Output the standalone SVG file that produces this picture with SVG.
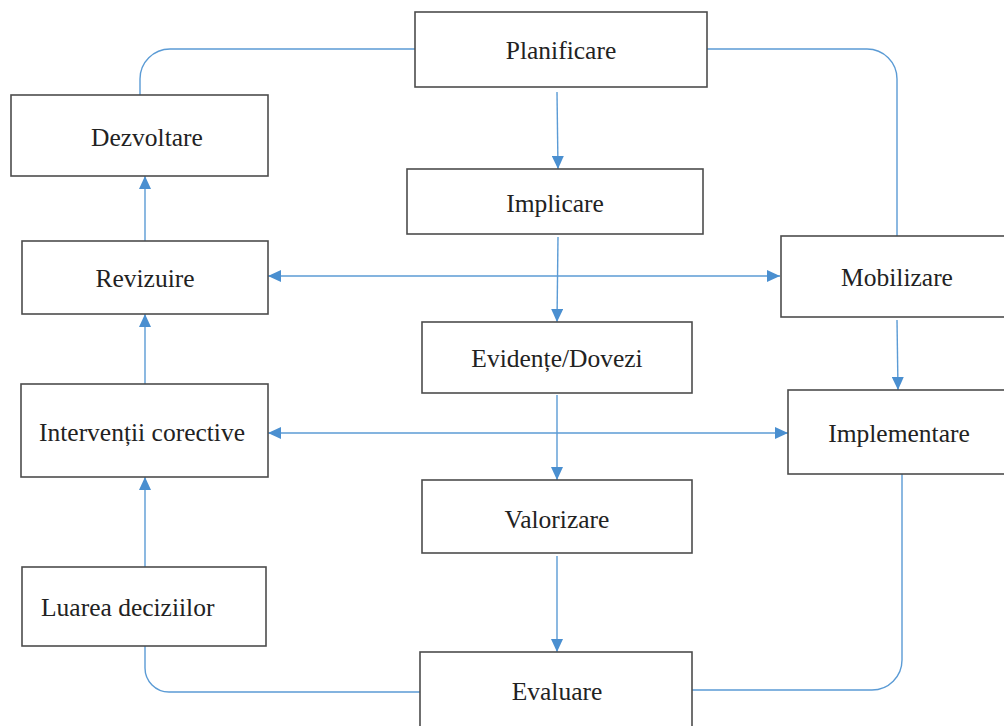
<svg xmlns="http://www.w3.org/2000/svg" width="1004" height="726" viewBox="0 0 1004 726">
<defs>
<marker id="ah" viewBox="0 0 13 12" refX="13" refY="6" markerWidth="13" markerHeight="12" markerUnits="userSpaceOnUse" orient="auto-start-reverse">
<path d="M0,0 L13,6 L0,12 Z" fill="#4a8fd0"/>
</marker>
<style>
.box{fill:#fff;stroke:#4d4d4d;stroke-width:1.6}
.lbl{font-family:"Liberation Serif","Times New Roman",serif;font-size:25.5px;fill:#222;text-anchor:middle}
.c{fill:none;stroke:#5b9bd5;stroke-width:1.4}
</style>
</defs>
<rect width="1004" height="726" fill="#fff"/>
<g id="connectors">
<path class="c" d="M415,49 H170 A30,30 0 0 0 140,79 V95"/>
<path class="c" d="M707,49 H867 A30,30 0 0 1 897,79 V236"/>
<path class="c" d="M557,92 L558,169" marker-end="url(#ah)"/>
<path class="c" d="M558,237 L557,322" marker-end="url(#ah)"/>
<path class="c" d="M557,395 L557,480" marker-end="url(#ah)"/>
<path class="c" d="M557,556 L557,652" marker-end="url(#ah)"/>
<path class="c" d="M145,241 L145,176" marker-end="url(#ah)"/>
<path class="c" d="M145,384 L145,314" marker-end="url(#ah)"/>
<path class="c" d="M145,567 L145,477" marker-end="url(#ah)"/>
<path class="c" d="M268,276 L780,276" marker-start="url(#ah)" marker-end="url(#ah)"/>
<path class="c" d="M268,433 L788,433" marker-start="url(#ah)" marker-end="url(#ah)"/>
<path class="c" d="M897,320 L898,390" marker-end="url(#ah)"/>
<path class="c" d="M145,646 V668 A24,24 0 0 0 169,692 H420"/>
<path class="c" d="M902,474 V660 A30,30 0 0 1 872,690 H692"/>
</g>
<g id="planificare"><rect class="box" x="415" y="12" width="292" height="75"/><text class="lbl" x="561" y="59">Planificare</text></g>
<g id="implicare"><rect class="box" x="407" y="169" width="296" height="65"/><text class="lbl" x="555" y="212">Implicare</text></g>
<g id="evidente"><rect class="box" x="422" y="322" width="270" height="71"/><text class="lbl" x="557" y="367">Evidențe/Dovezi</text></g>
<g id="valorizare"><rect class="box" x="422" y="480" width="270" height="73"/><text class="lbl" x="557" y="528">Valorizare</text></g>
<g id="evaluare"><rect class="box" x="420" y="652" width="272" height="80"/><text class="lbl" x="557" y="700">Evaluare</text></g>
<g id="dezvoltare"><rect class="box" x="11" y="95" width="257" height="81"/><text class="lbl" x="147" y="146">Dezvoltare</text></g>
<g id="revizuire"><rect class="box" x="22" y="241" width="246" height="73"/><text class="lbl" x="145" y="287">Revizuire</text></g>
<g id="interventii"><rect class="box" x="21" y="384" width="247" height="93"/><text class="lbl" x="142" y="441">Intervenții corective</text></g>
<g id="luarea"><rect class="box" x="22" y="567" width="244" height="79"/><text class="lbl" x="41" y="616" style="text-anchor:start">Luarea deciziilor</text></g>
<g id="mobilizare"><rect class="box" x="781" y="236" width="240" height="81"/><text class="lbl" x="897" y="286">Mobilizare</text></g>
<g id="implementare"><rect class="box" x="788" y="390" width="240" height="84"/><text class="lbl" x="899" y="442">Implementare</text></g>
</svg>
